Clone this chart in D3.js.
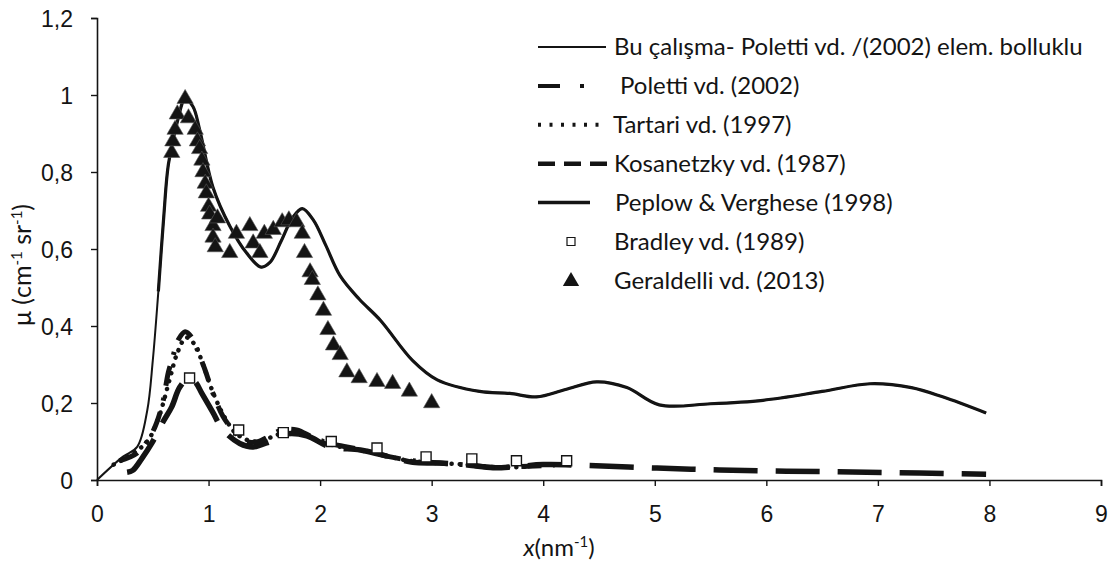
<!DOCTYPE html>
<html>
<head>
<meta charset="utf-8">
<script src="https://cdn.jsdelivr.net/npm/d3@7"></script>
<style>
  body { margin: 0; background: #fff; }
  svg { font-family: Lato, "Open Sans", sans-serif; }
</style>
</head>
<body>
<div id="chart"></div>
<script>
// Bu çalışma (thin solid)
const buX = [0, 0.23, 0.36, 0.45, 0.5, 0.55, 0.6, 0.64, 0.72, 0.79, 0.86, 0.92, 1.04, 1.19, 1.34, 1.47, 1.55, 1.65, 1.75, 1.84, 1.94, 2.05, 2.18, 2.35, 2.54, 2.83, 3.05, 3.43, 3.7, 3.94, 4.2, 4.48, 4.75, 5.04, 5.5, 5.97, 6.5, 6.93, 7.3, 7.58, 7.97]
const buY = [0, 0.06, 0.086, 0.18, 0.31, 0.49, 0.69, 0.82, 0.93, 0.99, 0.97, 0.91, 0.76, 0.66, 0.59, 0.553, 0.565, 0.62, 0.68, 0.705, 0.675, 0.61, 0.53, 0.47, 0.415, 0.31, 0.26, 0.23, 0.225, 0.216, 0.235, 0.255, 0.24, 0.195, 0.198, 0.207, 0.23, 0.25, 0.24, 0.216, 0.174]
// Peplow & Verghese (1998) (thick solid)
const pepX = [0.55, 0.6, 0.64, 0.72, 0.79, 0.86, 0.92, 1.04, 1.19, 1.34, 1.47, 1.55, 1.65, 1.75, 1.84, 1.94, 2.05, 2.18, 2.35, 2.54, 2.83, 3.05, 3.43, 3.7, 3.94, 4.2, 4.48, 4.75, 5.04, 5.5, 5.97, 6.5, 6.93, 7.3, 7.58, 7.97]
const pepY = [0.49, 0.69, 0.82, 0.93, 0.99, 0.97, 0.91, 0.76, 0.66, 0.59, 0.553, 0.565, 0.62, 0.68, 0.705, 0.675, 0.61, 0.53, 0.47, 0.415, 0.31, 0.26, 0.23, 0.225, 0.216, 0.235, 0.255, 0.24, 0.195, 0.198, 0.207, 0.23, 0.25, 0.24, 0.216, 0.174]
// Poletti vd. (2002) (dash-dot)
const polX = [0.2, 0.36, 0.49, 0.58, 0.64, 0.68, 0.73, 0.79, 0.85, 0.91, 0.97, 1.04, 1.13, 1.22, 1.34, 1.45, 1.52, 1.66, 1.79, 1.94, 2.09, 2.24, 2.45, 2.63, 2.83, 3.07, 3.32, 3.55, 3.8, 4.1]
const polY = [0.05, 0.07, 0.12, 0.19, 0.28, 0.32, 0.365, 0.385, 0.37, 0.33, 0.285, 0.225, 0.165, 0.13, 0.1, 0.1, 0.11, 0.13, 0.13, 0.11, 0.095, 0.086, 0.073, 0.06, 0.05, 0.044, 0.039, 0.033, 0.035, 0.038]
// Tartari vd. (1997) (dotted)
const tarX = [0.15, 0.3, 0.45, 0.55, 0.65, 0.72, 0.8, 0.88, 0.95, 1.05, 1.15, 1.25, 1.4, 1.55, 1.7, 1.85, 2.0, 2.2, 2.4, 2.6, 2.8, 3.0, 3.3, 3.6, 3.9]
const tarY = [0.04, 0.065, 0.1, 0.16, 0.26, 0.33, 0.37, 0.35, 0.3, 0.22, 0.16, 0.12, 0.1, 0.11, 0.125, 0.12, 0.1, 0.085, 0.075, 0.062, 0.05, 0.045, 0.04, 0.033, 0.035]
// Kosanetzky vd. (1987) (dashed)
const kosX = [0.27, 0.32, 0.4, 0.49, 0.59, 0.67, 0.74, 0.82, 0.88, 0.94, 1.04, 1.13, 1.28, 1.4, 1.55, 1.7, 1.88, 2.09, 2.36, 2.63, 2.83, 3.07, 3.32, 3.55, 3.73, 4.0, 4.39, 5.02, 5.58, 6.18, 6.77, 7.37, 7.97]
const kosY = [0.02, 0.025, 0.055, 0.095, 0.15, 0.19, 0.24, 0.265, 0.255, 0.225, 0.175, 0.13, 0.095, 0.086, 0.1, 0.12, 0.115, 0.086, 0.078, 0.06, 0.046, 0.044, 0.039, 0.032, 0.034, 0.04, 0.038, 0.031, 0.026, 0.023, 0.021, 0.018, 0.015]
// Bradley vd. (1989) (open squares)
const braX = [0.83, 1.27, 1.67, 2.1, 2.51, 2.95, 3.36, 3.76, 4.21]
const braY = [0.265, 0.13, 0.123, 0.1, 0.083, 0.06, 0.055, 0.05, 0.05]
// Geraldelli vd. (2013) (filled triangles)
const gerX = [0.67, 0.68, 0.7, 0.72, 0.79, 0.82, 0.88, 0.9, 0.92, 0.94, 0.95, 0.97, 0.98, 1.0, 1.01, 1.04, 1.04, 1.06, 1.08, 1.19, 1.25, 1.37, 1.4, 1.46, 1.5, 1.58, 1.66, 1.72, 1.79, 1.84, 1.86, 1.91, 1.93, 1.98, 2.03, 2.07, 2.12, 2.18, 2.24, 2.35, 2.51, 2.65, 2.8, 3.0]
const gerY = [0.85, 0.88, 0.91, 0.95, 0.99, 0.94, 0.91, 0.88, 0.86, 0.83, 0.8, 0.77, 0.745, 0.71, 0.69, 0.66, 0.63, 0.605, 0.68, 0.59, 0.64, 0.66, 0.615, 0.59, 0.64, 0.65, 0.67, 0.675, 0.67, 0.64, 0.59, 0.54, 0.52, 0.48, 0.44, 0.39, 0.35, 0.325, 0.28, 0.265, 0.255, 0.25, 0.23, 0.2]

const xTicks = [0, 1, 2, 3, 4, 5, 6, 7, 8, 9]
const yTicks = [0, 0.2, 0.4, 0.6, 0.8, 1, 1.2]
const legendLabels = [
  "Bu çalışma- Poletti vd. /(2002) elem. bolluklu",
  "Poletti vd. (2002)",
  "Tartari vd. (1997)",
  "Kosanetzky vd. (1987)",
  "Peplow & Verghese (1998)",
  "Bradley vd. (1989)",
  "Geraldelli vd. (2013)"
]

const width = 1116, height = 562
const ink = "#141414"
const x = d3.scaleLinear([0, 9], [97, 1101])
const y = d3.scaleLinear([0, 1.2], [480, 18])

const svg = d3.select("#chart").append("svg")
  .attr("width", width)
  .attr("height", height)

// axes
const xAxis = svg.append("g")
  .attr("transform", "translate(0,480)")
  .call(d3.axisBottom(x).tickValues(xTicks).tickSize(6).tickPadding(20).tickFormat(d3.format("d")))
const yAxis = svg.append("g")
  .attr("transform", "translate(97,0)")
  .call(d3.axisLeft(y).tickValues(yTicks).tickSize(6).tickPadding(18).tickFormat(d => String(d).replace(".", ",")))

for (const ax of [xAxis, yAxis]) {
  ax.select(".domain").attr("stroke", ink).attr("stroke-width", 1.6)
  ax.selectAll(".tick line").attr("stroke", ink).attr("stroke-width", 1.4)
  ax.selectAll(".tick text").attr("fill", ink).style("font-size", "23px")
}
yAxis.selectAll(".tick text").attr("dy", "0.35em")

// axis titles
const yTitle = svg.append("text")
  .attr("transform", "translate(31,265) rotate(-90)")
  .attr("text-anchor", "middle")
  .attr("fill", ink)
  .style("font-size", "25px")
yTitle.append("tspan").text("μ (cm")
yTitle.append("tspan").style("font-size", "15px").attr("dy", -9).text("-1")
yTitle.append("tspan").attr("dy", 9).text(" sr")
yTitle.append("tspan").style("font-size", "15px").attr("dy", -9).text("-1")
yTitle.append("tspan").attr("dy", 9).text(")")

const xTitle = svg.append("text")
  .attr("x", 559)
  .attr("y", 556)
  .attr("text-anchor", "middle")
  .attr("fill", ink)
  .style("font-size", "24px")
xTitle.append("tspan").attr("font-style", "italic").text("x")
xTitle.append("tspan").text("(nm")
xTitle.append("tspan").style("font-size", "15px").attr("dy", -9).text("-1")
xTitle.append("tspan").attr("dy", 9).text(")")

// series
const line = d3.line().x(d => x(d[0])).y(d => y(d[1])).curve(d3.curveCatmullRom)
const pts = (xs, ys) => xs.map((v, i) => [v, ys[i]])

const lines = [
  { xs: kosX, ys: kosY, w: 5.5, dash: "44,18" },
  { xs: tarX, ys: tarY, w: 4.5, dash: "0.1,8", cap: "round" },
  { xs: polX, ys: polY, w: 5, dash: "20,12,3,12" },
  { xs: buX, ys: buY, w: 2, dash: null },
  { xs: pepX, ys: pepY, w: 3.2, dash: null }
]
svg.append("g")
  .attr("fill", "none")
  .attr("stroke", ink)
  .selectAll("path")
  .data(lines)
  .join("path")
  .attr("stroke-width", d => d.w)
  .attr("stroke-dasharray", d => d.dash)
  .attr("stroke-linecap", d => d.cap || "butt")
  .attr("d", d => line(pts(d.xs, d.ys)))

svg.append("g")
  .selectAll("path")
  .data(pts(braX, braY))
  .join("path")
  .attr("transform", d => `translate(${x(d[0])},${y(d[1])})`)
  .attr("d", d3.symbol(d3.symbolSquare, 100))
  .attr("fill", "#fff")
  .attr("stroke", ink)
  .attr("stroke-width", 1.4)

svg.append("g")
  .selectAll("path")
  .data(pts(gerX, gerY))
  .join("path")
  .attr("transform", d => `translate(${x(d[0])},${y(d[1])})`)
  .attr("d", d3.symbol(d3.symbolTriangle, 115))
  .attr("fill", ink)
  .attr("stroke", "#555")
  .attr("stroke-width", 0.6)

// legend
const legend = svg.append("g")
  .selectAll("g")
  .data(legendLabels)
  .join("g")
  .attr("transform", (d, i) => `translate(538,${47 + i * 38.9})`)

legend.append("text")
  .attr("x", (d, i) => [76, 82, 75, 76, 77, 76, 76][i])
  .attr("dy", "0.35em")
  .attr("fill", ink)
  .style("font-size", "24px")
  .text(d => d)

const sample = [
  { x2: 68, w: 2, dash: null },
  { x2: 46, w: 4, dash: "22,20,4,200" },
  { x2: 69, w: 4, dash: "3,8.5" },
  { x2: 69, w: 4.5, dash: "17,9" },
  { x2: 52, w: 3.5, dash: null }
]
legend.filter((d, i) => i < 5).append("line")
  .attr("x1", 0)
  .attr("x2", (d, i) => sample[i].x2)
  .attr("stroke", ink)
  .attr("stroke-width", (d, i) => sample[i].w)
  .attr("stroke-dasharray", (d, i) => sample[i].dash)

legend.filter((d, i) => i === 5).append("path")
  .attr("transform", "translate(33,0)")
  .attr("d", d3.symbol(d3.symbolSquare, 64))
  .attr("fill", "#fff")
  .attr("stroke", ink)
  .attr("stroke-width", 1.2)

legend.filter((d, i) => i === 6).append("path")
  .attr("transform", "translate(33,1)")
  .attr("d", d3.symbol(d3.symbolTriangle, 115))
  .attr("fill", ink)
</script>
</body>
</html>
